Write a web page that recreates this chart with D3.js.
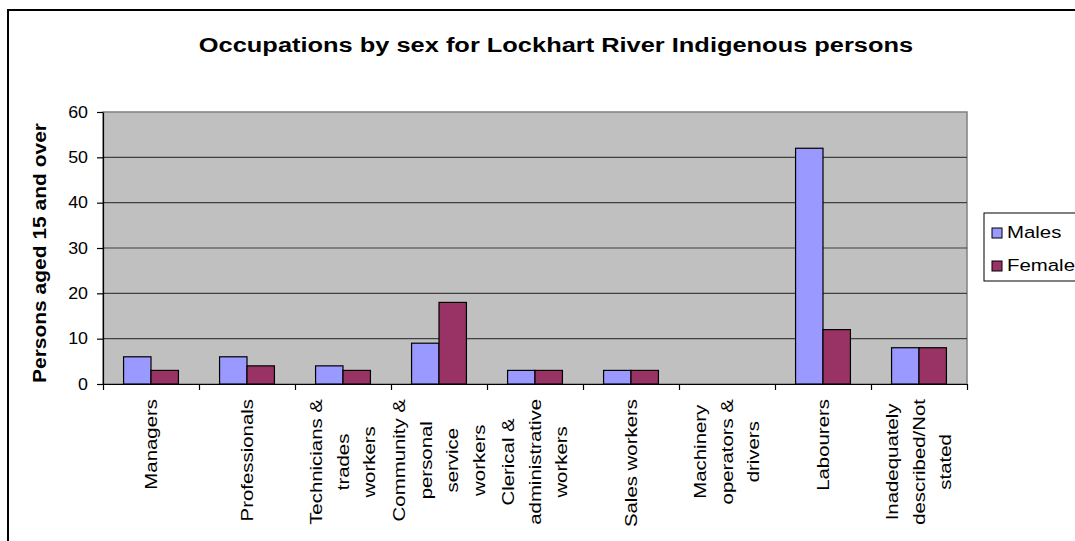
<!DOCTYPE html>
<html>
<head>
<meta charset="utf-8">
<script src="https://cdn.jsdelivr.net/npm/d3@7"></script>
<style>
  html, body { margin: 0; padding: 0; background: #fff; }
  svg { display: block; }
  text { font-family: "Liberation Sans", Arial, sans-serif; fill: #000; }
</style>
</head>
<body>
<svg id="chart" width="1075" height="541"></svg>
<script>
// Occupation categories (each entry is the wrapped lines of its axis label)
const categories = [
  ["Managers"],
  ["Professionals"],
  ["Technicians &", "trades", "workers"],
  ["Community &", "personal", "service", "workers"],
  ["Clerical &", "administrative", "workers"],
  ["Sales workers"],
  ["Machinery", "operators &", "drivers"],
  ["Labourers"],
  ["Inadequately", "described/Not", "stated"]
];
const males   = [6, 6, 4, 9, 3, 3, 0, 52, 8];
const females = [3, 4, 3, 18, 3, 3, 0, 12, 8];
const seriesNames = ["Males", "Females"];
const yTicks = [0, 10, 20, 30, 40, 50, 60];

const colors = ["#9999FF", "#993366"];
const stretch = 1.2;           // text is drawn slightly wide along its baseline

const svg = d3.select("#chart");

// outer chart frame
svg.append("rect")
  .attr("x", 8).attr("y", 10)
  .attr("width", 1200).attr("height", 600)
  .attr("fill", "#fff").attr("stroke", "#000").attr("stroke-width", 2);

const plot = { left: 103, right: 967, top: 112, bottom: 384 };

const x = d3.scaleBand()
  .domain(d3.range(categories.length))
  .range([plot.left, plot.right])
  .paddingInner(0).paddingOuter(0);

const y = d3.scaleLinear().domain([0, 60]).range([plot.bottom, plot.top]);

// grey plot background with frame
svg.append("rect")
  .attr("x", plot.left).attr("y", plot.top)
  .attr("width", plot.right - plot.left).attr("height", plot.bottom - plot.top)
  .attr("fill", "#C0C0C0").attr("stroke", "#808080").attr("stroke-width", 1.5);

// horizontal gridlines
svg.append("g")
  .selectAll("line")
  .data(yTicks.filter(t => t > 0 && t < 60))
  .join("line")
  .attr("x1", plot.left).attr("x2", plot.right)
  .attr("y1", d => y(d)).attr("y2", d => y(d))
  .attr("stroke", "#404040").attr("stroke-width", 1.2);

// bars: two per category, Excel-style 150% gap
const groupPad = x.bandwidth() * 1.5 / 3.5 / 2;
const barW = x.bandwidth() / 3.5;
const seriesData = [males, females];

seriesData.forEach((vals, s) => {
  svg.append("g")
    .selectAll("rect")
    .data(vals)
    .join("rect")
    .attr("x", (d, i) => x(i) + groupPad + s * barW)
    .attr("y", d => y(d))
    .attr("width", barW)
    .attr("height", d => y(0) - y(d))
    .attr("fill", colors[s])
    .attr("stroke", "#000")
    .attr("stroke-width", 1.2)
    .style("display", d => d > 0 ? null : "none");
});

// y axis
const yAxis = d3.axisLeft(y).tickValues(yTicks).tickSize(6).tickSizeOuter(0).tickPadding(9);
const yg = svg.append("g").attr("transform", `translate(${plot.left},0)`).call(yAxis);
yg.select(".domain").attr("stroke", "#000").attr("stroke-width", 1.2);
yg.selectAll(".tick line").attr("stroke", "#000").attr("stroke-width", 1.2);
yg.selectAll(".tick text")
  .attr("font-size", 16.5)
  .attr("font-family", "Liberation Sans, Arial, sans-serif")
  .attr("fill", "#000")
  .attr("transform", function () {
    const xx = +d3.select(this).attr("x");
    return `translate(${xx},0) scale(1.08,1) translate(${-xx},0)`;
  });

// x axis: ticks on category boundaries, no built-in labels
const xAxis = d3.axisBottom(d3.scaleLinear().domain([0, categories.length]).range([plot.left, plot.right]))
  .tickValues(d3.range(categories.length + 1))
  .tickSize(6).tickSizeOuter(0).tickFormat("");
const xg = svg.append("g").attr("transform", `translate(0,${plot.bottom})`).call(xAxis);
xg.select(".domain").attr("stroke", "#000").attr("stroke-width", 1.2);
xg.selectAll(".tick line").attr("stroke", "#000").attr("stroke-width", 1.2);

// rotated, multi-line category labels
const lineGap = 26.5;
const labelTop = 399;
categories.forEach((lines, i) => {
  const cx = x(i) + x.bandwidth() / 2;
  const g = svg.append("g");
  const texts = lines.map((ln, j) =>
    g.append("text").attr("font-size", 17).attr("text-anchor", "middle").attr("dy", "0.35em").text(ln)
  );
  const maxLen = d3.max(texts, t => t.node().getComputedTextLength()) * stretch;
  texts.forEach((t, j) => {
    const lx = cx + (j - (lines.length - 1) / 2) * lineGap;
    const ly = labelTop + maxLen / 2;
    t.attr("transform", `translate(${lx},${ly}) rotate(-90) scale(${stretch},1)`);
  });
});

// y axis title
svg.append("text")
  .attr("font-size", 17.5).attr("font-weight", "bold").attr("text-anchor", "middle")
  .attr("dy", "0.35em")
  .attr("transform", `translate(40,253) rotate(-90) scale(${stretch},1)`)
  .text("Persons aged 15 and over");

// chart title
svg.append("text")
  .attr("font-size", 20.5).attr("font-weight", "bold").attr("text-anchor", "middle")
  .attr("transform", `translate(556,52) scale(1.24,1)`)
  .text("Occupations by sex for Lockhart River Indigenous persons");

// legend
const lg = svg.append("g").attr("transform", "translate(984,213)");
lg.append("rect").attr("width", 150).attr("height", 68)
  .attr("fill", "#fff").attr("stroke", "#000").attr("stroke-width", 1);
seriesNames.forEach((name, s) => {
  const ry = 15 + s * 33;
  lg.append("rect").attr("x", 8).attr("y", ry).attr("width", 10).attr("height", 10)
    .attr("fill", colors[s]).attr("stroke", "#000").attr("stroke-width", 1);
  lg.append("text").attr("font-size", 17)
    .attr("transform", `translate(23,${ry + 10}) scale(${stretch},1)`)
    .text(name);
});
</script>
</body>
</html>
